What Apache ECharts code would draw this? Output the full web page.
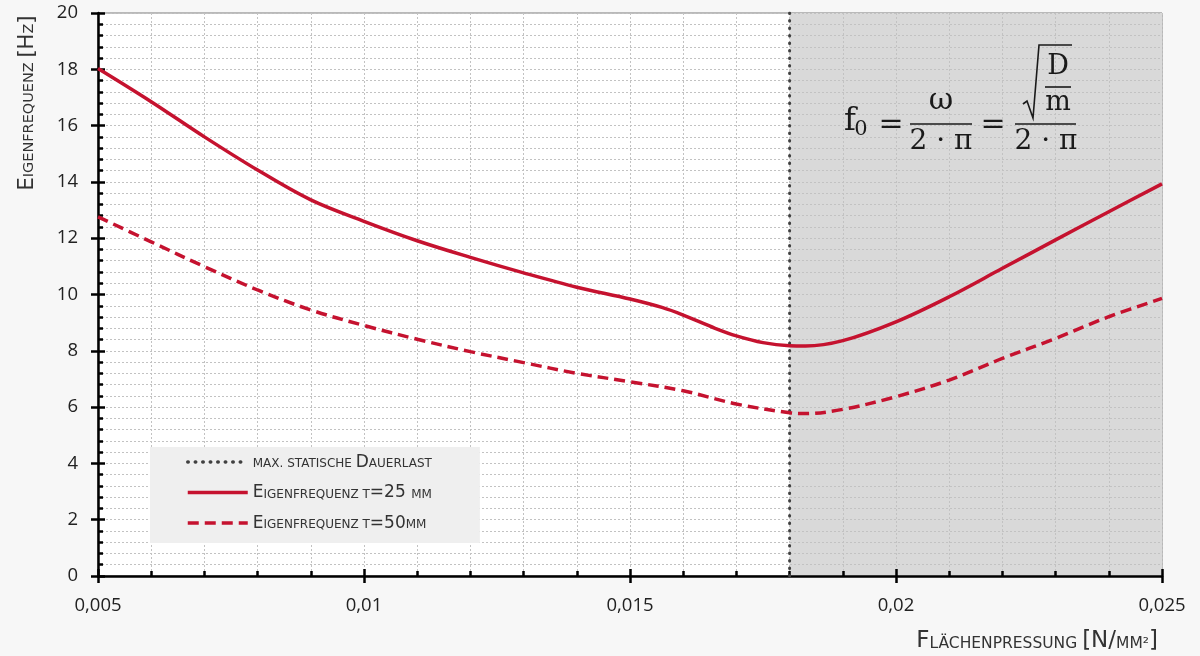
<!DOCTYPE html>
<html>
<head>
<meta charset="utf-8">
<script src="https://cdn.jsdelivr.net/npm/echarts@6/dist/echarts.min.js"></script>
<style>
html,body{margin:0;padding:0;background:#f7f7f7;}
#chart{width:1200px;height:656px;}
</style>
</head>
<body>
<div id="chart"></div>
<script>
// ---- data ----
const x25 = [0.005,0.006,0.007,0.008,0.009,0.010,0.011,0.012,0.013,0.014,0.015,0.0156,0.016,0.0166,0.017,0.0175,0.018,0.0183,0.019,0.020,0.021,0.022,0.023,0.024,0.025];
const f25 = [18.03,16.85,15.6,14.42,13.36,12.6,11.91,11.32,10.77,10.26,9.84,9.54,9.27,8.8,8.53,8.29,8.18,8.17,8.36,9.03,9.92,10.93,11.94,12.94,13.93];
const x50 = [0.005,0.006,0.007,0.008,0.009,0.010,0.011,0.012,0.013,0.014,0.015,0.016,0.017,0.018,0.0183,0.019,0.020,0.021,0.022,0.023,0.024,0.025];
const f50 = [12.76,11.87,10.99,10.16,9.45,8.9,8.41,7.97,7.58,7.2,6.9,6.58,6.11,5.8,5.77,5.92,6.37,6.96,7.73,8.44,9.21,9.86];
const limitX = 0.018;          // max. statische Dauerlast
const xMin = 0.005, xMax = 0.025, xStep = 0.005;
const yMin = 0, yMax = 20, yStep = 2;
const seriesNames = ['max. statische Dauerlast', 'Eigenfrequenz t=25 mm', 'Eigenfrequenz t=50mm'];
const legendLabels = [
  '{s|MAX. STATISCHE }{b|D}{s|AUERLAST}',
  '{b|E}{s|IGENFREQUENZ T}{b|=25 }{s|MM}',
  '{b|E}{s|IGENFREQUENZ T}{b|=50}{s|MM}'
];

const RED = '#c5122f';
const GRIDC = '#c2c2c2';
const pairs = (xs, ys) => xs.map((x, i) => [x, ys[i]]);

const chart = echarts.init(document.getElementById('chart'));
const fmtX = v => String(+(+v).toFixed(3)).replace('.', ',');
const capFont = 'DejaVu Sans';

const mainAxisCommon = {
  axisLine: { show: true, onZero: false, lineStyle: { color: '#000', width: 2.5 } },
  axisTick: { show: true, inside: false, length: 7, lineStyle: { color: '#000', width: 2.5 } },
  splitLine: { show: true, lineStyle: { color: GRIDC, type: [2, 2], width: 1 } },
  minorSplitLine: { show: true, lineStyle: { color: GRIDC, type: [2, 2], width: 1 } },
  minorTick: { show: false, splitNumber: 5 },
  z: 3
};
const overlayCommon = {
  axisLine: { show: false, onZero: false },
  axisLabel: { show: false },
  splitLine: { show: false },
  axisTick: { show: true, inside: true, length: 7, lineStyle: { color: '#000', width: 2.5 } },
  minorTick: { show: true, splitNumber: 5, length: 5, lineStyle: { color: '#000', width: 2.5 } },
  z: 3
};

chart.setOption({
  backgroundColor: '#f7f7f7',
  animation: false,
  grid: { left: 98, right: 38, top: 13, bottom: 80, show: true, backgroundColor: '#ffffff', borderColor: '#7a7a7a', borderWidth: 1 },
  xAxis: [
    Object.assign({ type: 'value', min: xMin, max: xMax, interval: xStep, position: 'bottom',
      axisLabel: { formatter: fmtX, fontFamily: 'Open Sans', fontSize: 18.5, color: '#222', margin: 20 } }, mainAxisCommon),
    Object.assign({ type: 'value', min: xMin, max: xMax, interval: xStep, position: 'bottom' }, overlayCommon)
  ],
  yAxis: [
    Object.assign({ type: 'value', min: yMin, max: yMax, interval: yStep, position: 'left',
      axisLabel: { fontFamily: 'Open Sans', fontSize: 18.5, color: '#222', margin: 20 } }, mainAxisCommon),
    Object.assign({ type: 'value', min: yMin, max: yMax, interval: yStep, position: 'left' }, overlayCommon)
  ],
  legend: {
    data: seriesNames,
    orient: 'vertical',
    left: 150, top: 447,
    padding: [7, 48, 11, 36],
    backgroundColor: '#efefef',
    itemWidth: 60, itemHeight: 14, itemGap: 13.5,
    itemStyle: { opacity: 0 },
    lineStyle: { width: 3.5 },
    formatter: name => legendLabels[seriesNames.indexOf(name)],
    textStyle: {
      color: '#333',
      rich: {
        b: { fontFamily: capFont, fontSize: 17, color: '#333', verticalAlign: 'bottom', lineHeight: 18 },
        s: { fontFamily: capFont, fontSize: 12, color: '#333', verticalAlign: 'bottom', lineHeight: 18, padding: [0, 0, 1, 0] }
      }
    },
    selectedMode: false
  },
  graphic: [
    { type: 'text', x: 25, y: 103, rotation: Math.PI / 2, z: 10,
      style: { text: '{b|E}{s|IGENFREQUENZ }{b|[H}{s|Z}{b|]}', align: 'center', verticalAlign: 'middle', textAlign: 'center', textVerticalAlign: 'middle', fill: '#333',
        rich: { b: { fontFamily: capFont, fontSize: 21, fill: '#333', verticalAlign: 'bottom', lineHeight: 26 },
                s: { fontFamily: capFont, fontSize: 14.5, fill: '#333', verticalAlign: 'bottom', lineHeight: 26, padding: [0, 0, 1, 0] } } } },
    { type: 'text', x: 1158, y: 640, z: 10,
      style: { text: '{b|F}{s|LÄCHENPRESSUNG }{b|[N/}{s|MM²}{b|]}', align: 'right', verticalAlign: 'middle', textAlign: 'right', textVerticalAlign: 'middle', fill: '#333',
        rich: { b: { fontFamily: capFont, fontSize: 23, fill: '#333', verticalAlign: 'bottom', lineHeight: 26 },
                s: { fontFamily: capFont, fontSize: 15.5, fill: '#333', verticalAlign: 'bottom', lineHeight: 26, padding: [0, 0, 1, 0] } } } },
    // formula f0 = omega/(2 pi) = sqrt(D/m)/(2 pi)
    { type: 'text', x: 850, y: 122, z: 10, style: { text: 'f', font: '32px "DejaVu Serif"', fill: '#1a1a1a', align: 'center', verticalAlign: 'middle' } },
    { type: 'text', x: 861, y: 130, z: 10, style: { text: '0', font: '21px "DejaVu Serif"', fill: '#1a1a1a', align: 'center', verticalAlign: 'middle' } },
    { type: 'text', x: 891, y: 125, z: 10, style: { text: '=', font: '30px "DejaVu Serif"', fill: '#1a1a1a', align: 'center', verticalAlign: 'middle' } },
    { type: 'line', z: 10, shape: { x1: 910, y1: 124, x2: 972, y2: 124 }, style: { stroke: '#1a1a1a', lineWidth: 1.6 } },
    { type: 'text', x: 941, y: 101, z: 10, style: { text: 'ω', font: '30px "DejaVu Serif"', fill: '#1a1a1a', align: 'center', verticalAlign: 'middle' } },
    { type: 'text', x: 941, y: 142, z: 10, style: { text: '2 · π', font: '28px "DejaVu Serif"', fill: '#1a1a1a', align: 'center', verticalAlign: 'middle' } },
    { type: 'text', x: 993, y: 125, z: 10, style: { text: '=', font: '30px "DejaVu Serif"', fill: '#1a1a1a', align: 'center', verticalAlign: 'middle' } },
    { type: 'line', z: 10, shape: { x1: 1015, y1: 124, x2: 1076, y2: 124 }, style: { stroke: '#1a1a1a', lineWidth: 1.6 } },
    { type: 'text', x: 1046, y: 142, z: 10, style: { text: '2 · π', font: '28px "DejaVu Serif"', fill: '#1a1a1a', align: 'center', verticalAlign: 'middle' } },
    { type: 'polyline', z: 10, shape: { points: [[1023, 104], [1027, 101], [1033, 118], [1039, 45], [1072, 45]] }, style: { stroke: '#1a1a1a', lineWidth: 1.6, fill: null } },
    { type: 'text', x: 1058, y: 67, z: 10, style: { text: 'D', font: '27px "DejaVu Serif"', fill: '#1a1a1a', align: 'center', verticalAlign: 'middle' } },
    { type: 'line', z: 10, shape: { x1: 1045, y1: 87, x2: 1071, y2: 87 }, style: { stroke: '#1a1a1a', lineWidth: 1.6 } },
    { type: 'text', x: 1058, y: 103, z: 10, style: { text: 'm', font: '27px "DejaVu Serif"', fill: '#1a1a1a', align: 'center', verticalAlign: 'middle' } }
  ],
  series: [
    { name: 'shade', type: 'line', data: [[limitX, yMax], [xMax, yMax]], symbol: 'none', silent: true, z: 1,
      lineStyle: { width: 0 }, areaStyle: { color: '#d9d9d9', opacity: 1 } },
    { name: seriesNames[0], type: 'line', data: [[limitX, yMin], [limitX, yMax]], symbol: 'none', z: 4,
      lineStyle: { color: '#404040', width: 3, type: [0.5, 7], cap: 'round' }, itemStyle: { color: '#404040' } },
    { name: seriesNames[1], type: 'line', data: pairs(x25, f25), smooth: 0.35, symbol: 'none', z: 5,
      lineStyle: { color: RED, width: 3.5 }, itemStyle: { color: RED } },
    { name: seriesNames[2], type: 'line', data: pairs(x50, f50), smooth: 0.35, symbol: 'none', z: 5,
      lineStyle: { color: RED, width: 3.5, type: [11, 6] }, itemStyle: { color: RED } }
  ]
});
</script>
</body>
</html>
